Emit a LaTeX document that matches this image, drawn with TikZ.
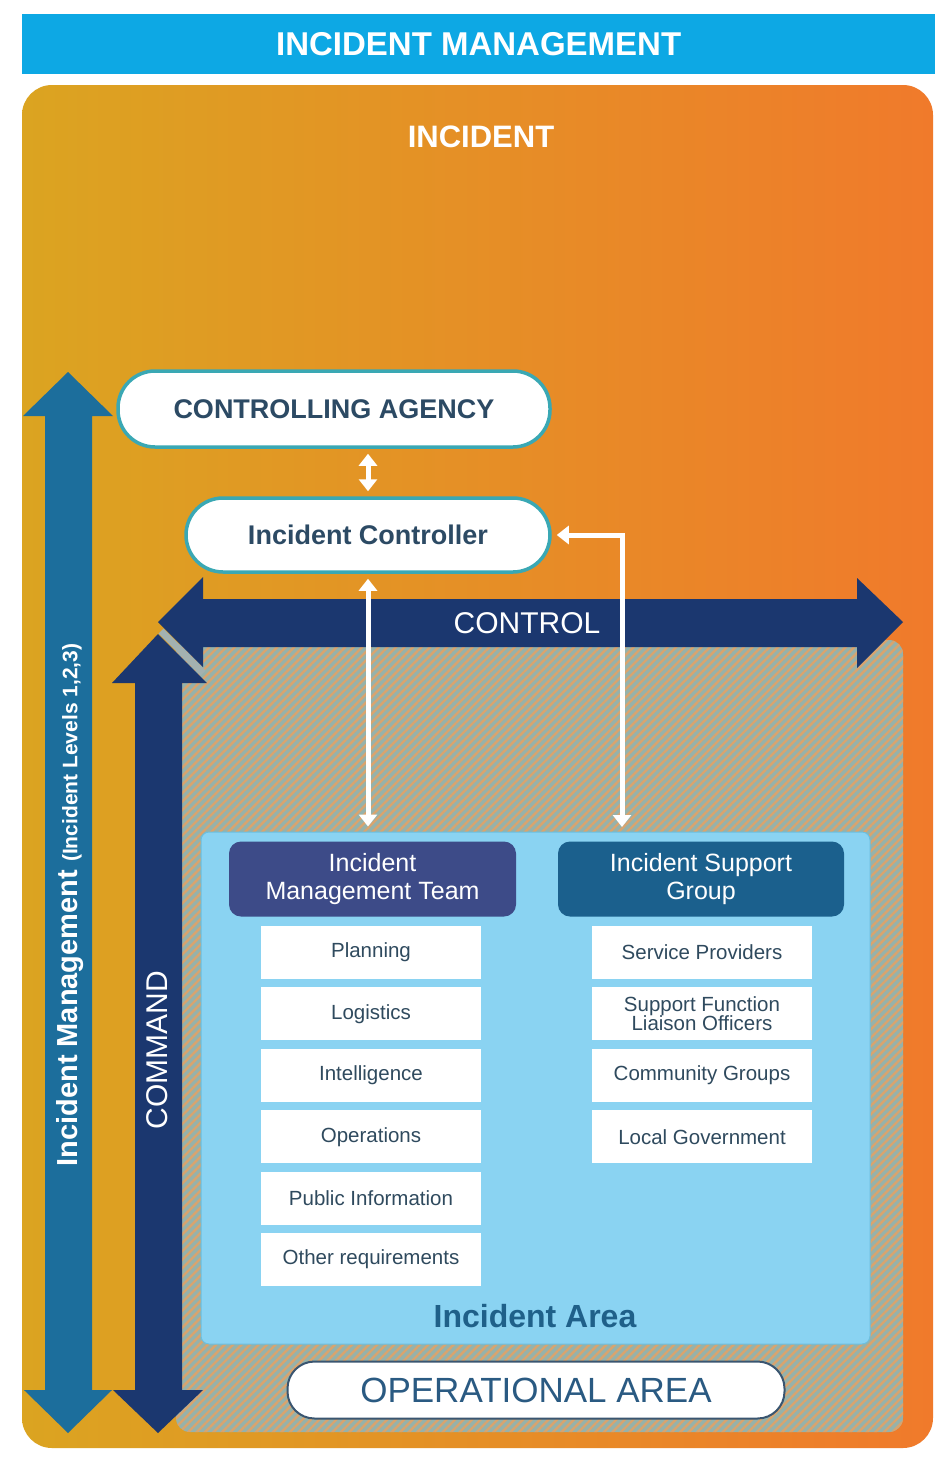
\documentclass[tikz,border=0pt]{standalone}
\usepackage{fontspec}
\setmainfont{Liberation Sans}
\usetikzlibrary{arrows.meta,patterns.meta,calc}
\definecolor{banner}{HTML}{0DA8E4}
\definecolor{gold}{HTML}{DBA421}
\definecolor{orng}{HTML}{F07A2B}
\definecolor{imblue}{HTML}{1C6E9C}
\definecolor{navy}{HTML}{1B376F}
\definecolor{hatchbg}{HTML}{96B2AA}
\definecolor{hatchln}{HTML}{D9A46E}
\definecolor{areablue}{HTML}{8AD3F2}
\definecolor{areaedge}{HTML}{6BBFDF}
\definecolor{pilledge}{HTML}{3AA8B4}
\definecolor{pilltext}{HTML}{2C4A64}
\definecolor{imthead}{HTML}{3D4B88}
\definecolor{isghead}{HTML}{1B608D}
\definecolor{subtext}{HTML}{2F4A5E}
\definecolor{areatext}{HTML}{1F6089}
\definecolor{opedge}{HTML}{3A5570}
\definecolor{optext}{HTML}{2A5A82}
\definecolor{seam}{HTML}{A3B1B0}
\begin{document}
\begin{tikzpicture}[x=1pt,y=-1pt,
  pill/.style={draw=pilledge, line width=3.5pt, fill=white, rounded corners=37pt,
    text=pilltext, font=\bfseries\fontsize{27}{30}\selectfont, inner sep=0pt},
  headbox/.style={rounded corners=12pt, text=white, align=center,
    font=\fontsize{25}{28.5}\selectfont, inner sep=0pt, minimum width=287pt, minimum height=75pt},
  subbox/.style={fill=white, text=subtext, align=center,
    font=\fontsize{20.5}{22}\selectfont, minimum width=220pt, minimum height=53pt, inner sep=0pt},
  conn/.style={draw=white, line width=5pt,
    arrows={Triangle[width=18pt,length=12pt]-Triangle[width=18pt,length=12pt]},
    shorten >=5pt, shorten <=5pt},
  onarrow/.style={text=white, font=\fontsize{30}{33}\selectfont, inner sep=0pt}
]
\useasboundingbox (0,0) rectangle (935,1459);
\fill[white] (0,0) rectangle (935,1459);

% banner
\node[fill=banner, minimum width=913pt, minimum height=60pt, inner sep=0pt, anchor=north west,
  text=white, font=\bfseries\fontsize{33}{36}\selectfont] (banner) at (22,14) {INCIDENT MANAGEMENT};

% incident box
\shade[left color=gold, right color=orng, rounded corners=30pt] (22,85) rectangle (933,1448);
\node[text=white, font=\bfseries\fontsize{31}{34}\selectfont] (incident) at (481,137) {INCIDENT};

% hatched operational area
\fill[hatchbg, rounded corners=14pt] (176,640) rectangle (903,1432);
\fill[pattern={Lines[angle=45,distance=6pt,line width=2.4pt]}, pattern color=hatchln, rounded corners=14pt]
  (176,640) rectangle (903,1432);

% incident management arrow
\fill[imblue] (68,372) -- (113,416) -- (92,416) -- (92,1390) -- (112,1390) -- (68,1433)
  -- (24,1390) -- (45,1390) -- (45,416) -- (23,416) -- cycle;
\node[rotate=90, text=white, inner sep=0pt] (imlabel) at (70,905)
  {\bfseries\fontsize{29}{32}\selectfont Incident Management {\fontsize{21}{24}\selectfont (Incident Levels 1,2,3)}};

% command arrow
\fill[navy] (158,634) -- (207,683) -- (182,683) -- (182,1390) -- (203,1390) -- (158,1433)
  -- (113,1390) -- (135,1390) -- (135,683) -- (112,683) -- cycle;
\draw[seam, line width=7pt] (161,631) -- (203,673);
\node[onarrow, rotate=90] (cmd) at (157,1050) {COMMAND};

% control arrow
\fill[navy] (158,622) -- (203,577) -- (203,599) -- (857,599) -- (857,578) -- (903,622)
  -- (857,668) -- (857,647) -- (203,647) -- (203,667) -- cycle;
\node[onarrow] (ctl) at (527,623) {CONTROL};

% incident area
\node[fill=areablue, draw=areaedge, line width=1pt, rounded corners=8pt,
  minimum width=669pt, minimum height=512pt, inner sep=0pt] (ia) at (535.5,1088) {};
\node[text=areatext, font=\bfseries\fontsize{32}{35}\selectfont] (iatext) at (535,1316) {Incident Area};

\node[headbox, fill=imthead] (imt) at (372.5,879) {Incident\\Management Team};
\node[headbox, fill=isghead, minimum width=286pt] (isg) at (701,879) {Incident Support\\Group};

\foreach \t [count=\i] in {Planning,Logistics,Intelligence,Operations,Public Information,Other requirements}
  \node[subbox] (imt\i) at (371,{952.5+61.4*(\i-1)}) {\t};
\foreach \t [count=\i] in {Service Providers,{Support Function\\[-3pt]Liaison Officers},Community Groups,Local Government}
  \node[subbox] (isg\i) at (702,{952.5+61.4*(\i-1)}) {\t};

% pills
\node[pill, minimum width=432pt, minimum height=76pt] (ca) at (334,409) {CONTROLLING AGENCY};
\node[pill, minimum width=364pt, minimum height=74pt] (ic) at (368,535) {Incident Controller};

% operational area label
\node[fill=white, draw=opedge, line width=2pt, rounded corners=27pt, minimum width=497pt,
  minimum height=57pt, inner sep=0pt, text=optext, font=\fontsize{35}{38}\selectfont] (op) at (536,1390) {OPERATIONAL AREA};

% connectors
\draw[conn] (ic.north) -- (ic.north |- ca.south);
\draw[conn] (ic.south) -- (ic.south |- ia.north);
\coordinate (isgpt) at (622,832);
\draw[conn] (isgpt) |- (ic.east);
\end{tikzpicture}
\end{document}
